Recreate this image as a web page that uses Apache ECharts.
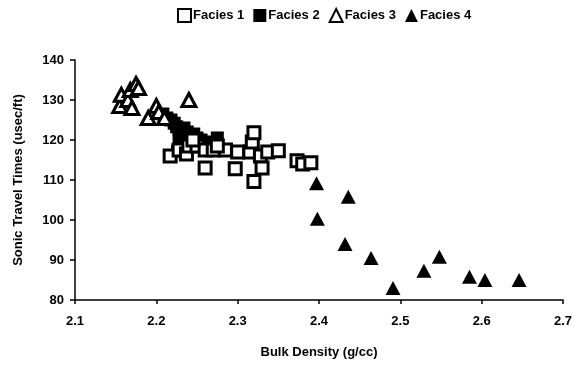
<!DOCTYPE html>
<html><head><meta charset="utf-8">
<script src="https://cdn.jsdelivr.net/npm/echarts@6/dist/echarts.min.js"></script>
<style>html,body{margin:0;padding:0;background:#fff}#c{width:576px;height:365px}</style>
</head><body><div id="c"></div>
<script>
const seriesNames = ["Facies 1", "Facies 2", "Facies 3", "Facies 4"];
const xTicks = [2.1, 2.7, 0.1];
const yTicks = [80, 140, 10];
const facies1 = [[2.217,116],[2.228,117.5],[2.237,116.5],[2.24,118.5],[2.25,118.5],[2.26,117.5],[2.27,117.5],[2.285,117.5],[2.26,113],[2.297,112.8],[2.3,117],[2.315,117],[2.318,119.5],[2.32,121.8],[2.328,116],[2.33,113],[2.32,109.6],[2.337,117],[2.35,117.3],[2.373,114.8],[2.38,114],[2.39,114.3],[2.275,118.5],[2.245,120]];
const facies2 = [[2.208,126.5],[2.213,125.5],[2.218,125],[2.222,124.2],[2.225,123.3],[2.228,122.5],[2.231,121.5],[2.234,123],[2.238,122],[2.242,121],[2.246,121.5],[2.25,120.5],[2.255,120],[2.26,119.5],[2.228,120],[2.232,118.5],[2.226,117.2],[2.275,120.5]];
const facies3 = [[2.155,128.5],[2.157,131.3],[2.165,130],[2.17,128],[2.168,132.5],[2.175,134],[2.178,133],[2.19,125.5],[2.2,128.5],[2.203,127],[2.21,125.5],[2.24,130]];
const facies4 = [[2.397,109.2],[2.398,100.3],[2.436,105.8],[2.432,94],[2.464,90.5],[2.491,83],[2.529,87.3],[2.548,90.8],[2.585,85.8],[2.604,85],[2.646,85]];

const font = 'Liberation Sans, Arial, sans-serif';
const chart = echarts.init(document.getElementById('c'), null, {renderer:'canvas'});
const openStyle = {color:'#fff', borderColor:'#000', borderWidth:3, opacity:1};
const fillStyle = {color:'#000', borderColor:'#000', borderWidth:0, opacity:1};
chart.setOption({
  animation:false,
  backgroundColor:'#fff',
  legend:{
    top:3, left:172, itemWidth:13, itemHeight:13, itemGap:9,
    textStyle:{fontFamily:font, fontWeight:'bold', fontSize:13, color:'#000', padding:[0,0,0,-3]},
    data:seriesNames
  },
  grid:{left:75, right:13, top:60, bottom:65},
  xAxis:{
    type:'value', min:xTicks[0], max:xTicks[1], interval:xTicks[2],
    name:'Bulk Density (g/cc)', nameLocation:'middle', nameGap:46,
    nameTextStyle:{fontFamily:font, fontWeight:'bold', fontSize:13, color:'#000'},
    axisLine:{show:true, lineStyle:{color:'#000', width:1.5}},
    axisTick:{show:true, length:4, lineStyle:{color:'#000', width:1.5}},
    axisLabel:{fontFamily:font, fontWeight:'bold', fontSize:13, color:'#000', margin:15, formatter:v=>v.toFixed(1)},
    splitLine:{show:false}
  },
  yAxis:{
    type:'value', min:yTicks[0], max:yTicks[1], interval:yTicks[2],
    name:'Sonic Travel Times (usec/ft)', nameLocation:'middle', nameGap:50,
    nameTextStyle:{fontFamily:font, fontWeight:'bold', fontSize:13, color:'#000'},
    axisLine:{show:true, lineStyle:{color:'#000', width:1.5}},
    axisTick:{show:true, length:5, lineStyle:{color:'#000', width:1.5}},
    axisLabel:{fontFamily:font, fontWeight:'bold', fontSize:13, color:'#000', margin:11},
    splitLine:{show:false}
  },
  series:[
    {name:seriesNames[0], type:'scatter', symbol:'rect', symbolSize:12, data:facies1, itemStyle:openStyle, z:3},
    {name:seriesNames[1], type:'scatter', symbol:'rect', symbolSize:13, data:facies2, itemStyle:fillStyle, z:2},
    {name:seriesNames[2], type:'scatter', symbol:'triangle', symbolSize:[14,13], data:facies3, itemStyle:openStyle, z:4},
    {name:seriesNames[3], type:'scatter', symbol:'triangle', symbolSize:[15,14], data:facies4, itemStyle:fillStyle, z:4}
  ]
});
</script></body></html>
